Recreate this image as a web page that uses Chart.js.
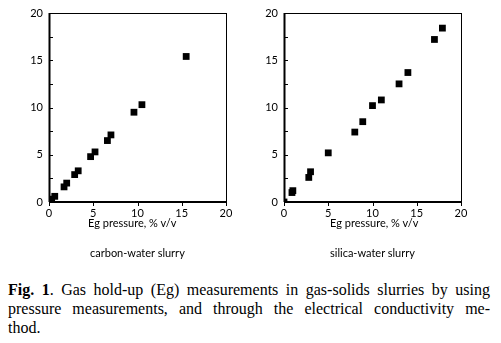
<!DOCTYPE html>
<html lang="en">
<head>
  <title>Gas hold-up</title>
  <script src="https://cdn.jsdelivr.net/npm/chart.js"></script>
</head>

<style>
  body { margin: 0; background: #fff; width: 501px; height: 343px; position: relative; overflow: hidden; }
  .box { position: absolute; top: 0; }
  .lbl { position: absolute; font: 11px Lato, sans-serif; color: #000; white-space: nowrap; }
  #caption {
    position: absolute; left: 8px; top: 280px; width: 482px; margin: 0;
    font: 16px "Liberation Serif", serif; line-height: 19px; color: #000;
  }
  #caption div { text-align: justify; text-align-last: justify; white-space: nowrap; }
  #caption div.last { text-align-last: left; }
</style>

<body>
  <div class="box" style="left: 0; width: 250px; height: 222px;"><canvas id="carbon"></canvas></div>
  <div class="box" style="left: 250px; width: 251px; height: 222px;"><canvas id="silica"></canvas></div>

  <span class="lbl" style="left: 88px; top: 216px;">Eg pressure, % v/v</span>
  <span class="lbl" style="left: 90px; top: 246px;">carbon-water slurry</span>
  <span class="lbl" style="left: 330px; top: 216px;">Eg pressure, % v/v</span>
  <span class="lbl" style="left: 330px; top: 246px;">silica-water slurry</span>

  <div id="caption">
    <div><b>Fig. 1</b>. Gas hold-up (Eg) measurements in gas-solids slurries by using</div>
    <div>pressure measurements, and through the electrical conductivity me-</div>
    <div class="last">thod.</div>
  </div>

  <script>
    // carbon-water slurry (left panel)
    const carbonX = [0.3, 0.65, 1.7, 2.0, 2.9, 3.3, 4.7, 5.2, 6.6, 7.0, 9.6, 10.5, 15.5];
    const carbonY = [0.3, 0.6, 1.6, 2.0, 2.9, 3.3, 4.8, 5.3, 6.5, 7.1, 9.5, 10.3, 15.4];

    // silica-water slurry (right panel)
    const silicaX = [0.0, 0.9, 1.0, 2.8, 3.0, 5.0, 8.0, 8.9, 10.0, 11.0, 13.0, 14.0, 17.0, 17.9];
    const silicaY = [0.0, 1.0, 1.2, 2.6, 3.2, 5.2, 7.4, 8.5, 10.2, 10.8, 12.5, 13.7, 17.2, 18.4];

    const axisMin = 0, axisMax = 20;
    const tickFont = { family: 'Lato', size: 11 };

    // box around the plot + small tick marks (y inward, x outward)
    const frame = {
      id: 'frame',
      beforeDatasetsDraw(chart) {
        const { ctx, chartArea: a, scales: { x, y } } = chart;
        ctx.save();
        ctx.strokeStyle = '#000';
        ctx.lineWidth = 1;
        ctx.strokeRect(a.left + 0.5, a.top + 0.5, a.width, a.height);
        ctx.lineWidth = 2;
        ctx.beginPath();
        ctx.moveTo(a.left, a.bottom); ctx.lineTo(a.right + 1, a.bottom);
        ctx.moveTo(a.left + 0.5, a.top); ctx.lineTo(a.left + 0.5, a.bottom);
        ctx.stroke();
        ctx.lineWidth = 1;
        ctx.beginPath();
        y.ticks.forEach(t => {
          const py = Math.round(y.getPixelForValue(t.value)) + 0.5;
          ctx.moveTo(a.left, py); ctx.lineTo(a.left + 4, py);
        });
        x.ticks.forEach(t => {
          const px = Math.round(x.getPixelForValue(t.value)) + 0.5;
          ctx.moveTo(px, a.bottom); ctx.lineTo(px, a.bottom + 4);
        });
        ctx.stroke();
        ctx.restore();
      }
    };

    function makeChart(id, xs, ys, yWidth, padRight) {
      const pts = xs.map((v, i) => ({ x: v, y: ys[i] }));
      return new Chart(document.getElementById(id), {
        type: 'scatter',
        data: {
          datasets: [{
            data: pts,
            pointStyle: 'rect',
            pointRadius: 4.8,
            pointHoverRadius: 4.8,
            backgroundColor: '#000',
            borderColor: '#000',
            borderWidth: 0
          }]
        },
        options: {
          responsive: true,
          maintainAspectRatio: false,
          animation: false,
          layout: { padding: { top: 13, right: padRight, left: 0, bottom: 0 } },
          plugins: { legend: { display: false }, tooltip: { enabled: false } },
          scales: {
            x: {
              type: 'linear', min: axisMin, max: axisMax,
              grid: { display: false, drawTicks: false },
              border: { display: false },
              ticks: { stepSize: 5, padding: 5, color: '#000', font: tickFont, maxRotation: 0 },
              afterFit: s => { s.height = 20; }
            },
            y: {
              type: 'linear', min: axisMin, max: axisMax,
              grid: { display: false, drawTicks: false },
              border: { display: false },
              ticks: {
                stepSize: 2.5, padding: 6, color: '#000', font: tickFont,
                callback: v => (v % 5 === 0 ? v : '')
              },
              afterFit: s => { s.width = yWidth; }
            }
          }
        },
        plugins: [frame]
      });
    }

    makeChart('carbon', carbonX, carbonY, 49, 24);
    makeChart('silica', silicaX, silicaY, 34, 40);
  </script>
</body>

</html>
